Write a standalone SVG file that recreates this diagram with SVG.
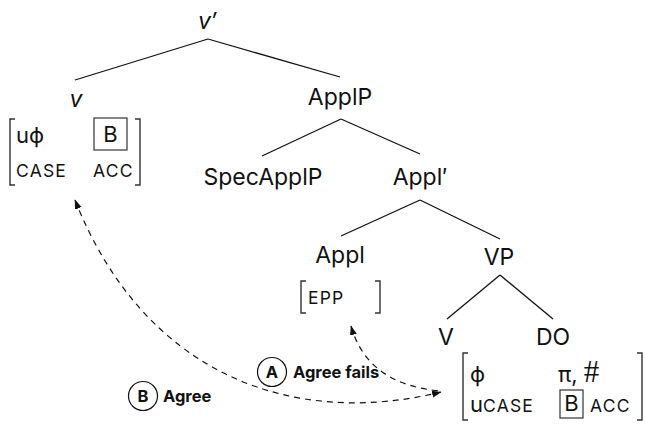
<svg xmlns="http://www.w3.org/2000/svg" width="646" height="425" viewBox="0 0 646 425">
  <defs>
    <style>
      .lbl { font-family: Inter, "Noto Sans", "DejaVu Sans", sans-serif; font-size: 23px; fill: #111; text-anchor: middle; }
      .it { font-style: italic; }
      .feat { font-family: Inter, "Noto Sans", "DejaVu Sans", sans-serif; font-size: 22px; fill: #111; }
      .sc { font-family: Inter, "Noto Sans", "DejaVu Sans", sans-serif; font-size: 17.5px; letter-spacing: 1.2px; fill: #111; }
      .math { font-family: "Liberation Serif", "DejaVu Serif", serif; font-size: 31px; }
      .tag { font-family: Inter, "Noto Sans", "DejaVu Sans", sans-serif; font-size: 16.5px; font-weight: 700; fill: #111; }
      .edge { stroke: #111; stroke-width: 1.3; fill: none; }
      .brk { stroke: #333; stroke-width: 1.4; fill: none; }
      .box { stroke: #333; stroke-width: 1.2; fill: none; }
      .ring { stroke: #111; stroke-width: 1.2; fill: none; }
      .dep { stroke: #111; stroke-width: 1.2; fill: none; stroke-dasharray: 6 5; }
    </style>
    <marker id="head" viewBox="0 0 10 8" markerWidth="10" markerHeight="8" refX="9" refY="4" markerUnits="userSpaceOnUse" orient="auto-start-reverse">
      <path d="M0,0.5 L9.5,4 L0,7.5 z" fill="#111"/>
    </marker>
  </defs>

  <!-- tree branches -->
  <g id="connectors">
    <line class="edge" x1="208" y1="39" x2="75" y2="80"/>
    <line class="edge" x1="208" y1="39" x2="340" y2="77"/>
    <line class="edge" x1="341" y1="119" x2="262" y2="156"/>
    <line class="edge" x1="341" y1="119" x2="420" y2="154"/>
    <line class="edge" x1="420" y1="200" x2="341" y2="236"/>
    <line class="edge" x1="420" y1="200" x2="500" y2="239"/>
    <line class="edge" x1="500" y1="275" x2="447" y2="319"/>
    <line class="edge" x1="500" y1="275" x2="553" y2="319"/>
    <!-- agreement dependencies -->
    <path class="dep" d="M75,200 C145,377 295,428 441,392" marker-start="url(#head)" marker-end="url(#head)"/>
    <path class="dep" d="M351,326 C362,365 392,387 441,391" marker-start="url(#head)"/>
  </g>

  <g id="vbar">
    <text class="lbl it" x="207" y="29">v′</text>
  </g>

  <g id="v">
    <text class="lbl it" x="76" y="107">v</text>
    <path class="brk" d="M15,119 H10 V185 H15"/>
    <path class="brk" d="M135,119 H140 V185 H135"/>
    <text class="feat" x="16" y="143">uϕ</text>
    <rect class="box" x="94" y="118" width="33" height="32"/>
    <text class="feat" x="110.5" y="142" text-anchor="middle">B</text>
    <text class="sc" x="16" y="177">CASE</text>
    <text class="sc" x="93" y="177">ACC</text>
  </g>

  <g id="applp">
    <text class="lbl" x="340" y="105">ApplP</text>
  </g>

  <g id="specapplp">
    <text class="lbl" x="263" y="185">SpecApplP</text>
  </g>

  <g id="applbar">
    <text class="lbl" x="420" y="185">Appl′</text>
  </g>

  <g id="appl">
    <text class="lbl" x="340" y="263">Appl</text>
    <path class="brk" d="M306,281 H301 V313 H306"/>
    <path class="brk" d="M375,281 H380 V313 H375"/>
    <text class="sc" x="308" y="304">EPP</text>
  </g>

  <g id="vp">
    <text class="lbl" x="499" y="265">VP</text>
  </g>

  <g id="verb">
    <text class="lbl" x="446" y="345">V</text>
  </g>

  <g id="do">
    <text class="lbl" x="553" y="345">DO</text>
    <path class="brk" d="M468,353 H463 V420 H468"/>
    <path class="brk" d="M637,353 H642 V420 H637"/>
    <text class="feat" x="470" y="382">ϕ</text>
    <text class="feat" x="558" y="382">π, <tspan class="math">#</tspan></text>
    <text class="feat" x="470" y="412">u<tspan class="sc">CASE</tspan></text>
    <rect class="box" x="560" y="390" width="23" height="28"/>
    <text class="feat" x="571.5" y="411" text-anchor="middle">B</text>
    <text class="sc" x="590" y="412">ACC</text>
  </g>

  <g id="tag-a">
    <circle class="ring" cx="272" cy="372" r="14.5"/>
    <text class="tag" x="272" y="378" text-anchor="middle">A</text>
    <text class="tag" x="293" y="378">Agree fails</text>
  </g>

  <g id="tag-b">
    <circle class="ring" cx="143" cy="396" r="14.5"/>
    <text class="tag" x="143" y="402" text-anchor="middle">B</text>
    <text class="tag" x="163" y="402">Agree</text>
  </g>
</svg>
